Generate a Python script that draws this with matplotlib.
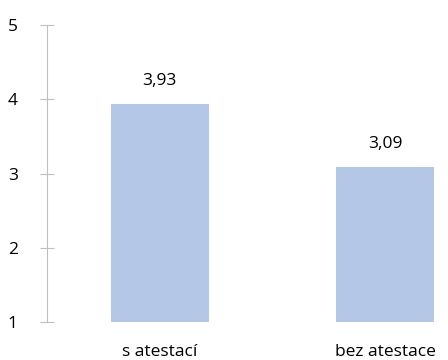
import matplotlib.pyplot as plt

kategorie = ["s atestací", "bez atestace"]
hodnoty = [3.93, 3.09]
popisky = ["3,93", "3,09"]

plt.rcParams['font.family'] = ['Open Sans', 'DejaVu Sans']

fig = plt.figure(figsize=(4.48, 3.6), dpi=100)
ax = fig.add_axes([47 / 448, 1 - 322 / 360, 451 / 448, 297 / 360])

x = list(range(len(kategorie)))
ax.bar(x, [h - 1 for h in hodnoty], bottom=1, width=0.434, color="#B4C7E7")
for xi, h, t in zip(x, hodnoty, popisky):
    ax.annotate(t, (xi, h), xytext=(0, 11), textcoords="offset points",
                ha="center", va="bottom", fontsize=12.5, color="#000000")

ax.set_xlim(-0.5, 1.5)
ax.set_ylim(1, 5)
ax.set_yticks([1, 2, 3, 4, 5])
ax.set_xticks(x)
ax.set_xticklabels(kategorie)
ax.tick_params(axis="x", length=0, pad=16, labelsize=12.5, labelcolor="#000000")
ax.tick_params(axis="y", direction="inout", length=10, width=0.8, color="#BFBFBF",
               pad=16, labelsize=12.5, labelcolor="#000000")
for s in ["top", "right", "bottom"]:
    ax.spines[s].set_visible(False)
ax.spines["left"].set_color("#BFBFBF")
ax.spines["left"].set_linewidth(0.8)

fig.savefig("out.png", dpi=100)
